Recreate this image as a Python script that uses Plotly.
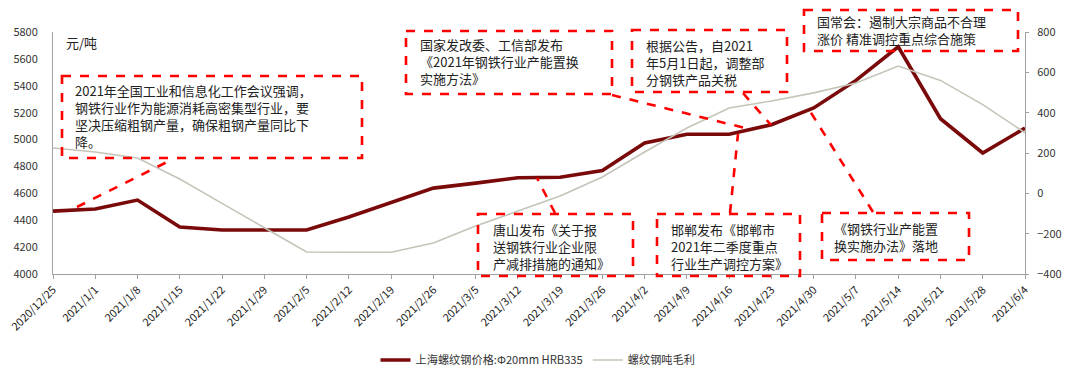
import plotly.graph_objects as go

# ---------------- data ----------------
dates = ["2020/12/25", "2021/1/1", "2021/1/8", "2021/1/15", "2021/1/22", "2021/1/29",
         "2021/2/5", "2021/2/12", "2021/2/19", "2021/2/26", "2021/3/5", "2021/3/12",
         "2021/3/19", "2021/3/26", "2021/4/2", "2021/4/9", "2021/4/16", "2021/4/23",
         "2021/4/30", "2021/5/7", "2021/5/14", "2021/5/21", "2021/5/28", "2021/6/4"]
price = [4468, 4483, 4550, 4349, 4327, 4327, 4327, 4424, 4530, 4639, 4676, 4716,
         4720, 4770, 4975, 5040, 5040, 5110, 5235, 5440, 5690, 5155, 4900, 5085]
margin = [225, 205, 175, 71, -50, -172, -291, -292, -292, -246, -162, -88,
          -13, 81, 205, 324, 423, 458, 498, 547, 631, 560, 440, 300]
left_ticks = [4000, 4200, 4400, 4600, 4800, 5000, 5200, 5400, 5600, 5800]
right_ticks = [-400, -200, 0, 200, 400, 600, 800]
series_names = ["上海螺纹钢价格:Φ20mm HRB335", "螺纹钢吨毛利"]
unit_label = "元/吨"

notes = [
    "2021年全国工业和信息化工作会议强调，<br>钢铁行业作为能源消耗高密集型行业，要<br>坚决压缩粗钢产量，确保粗钢产量同比下<br>降。",
    "国家发改委、工信部发布<br>《2021年钢铁行业产能置换<br>实施方法》",
    "根据公告，自2021<br>年5月1日起，调整部<br>分钢铁产品关税",
    "国常会：遏制大宗商品不合理<br>涨价 精准调控重点综合施策",
    "唐山发布《关于报<br>送钢铁行业企业限<br>产减排措施的通知》",
    "邯郸发布《邯郸市<br>2021年二季度重点<br>行业生产调控方案》",
    "《钢铁行业产能置<br>换实施办法》落地",
]

# ---------------- layout geometry ----------------
# The page body has an 8px margin, so the figure sits at (8, 8) on screen.
OFF = 8
W, H = 1064, 362
L, T = 53 - OFF, 32 - OFF          # plot area starts at screen (53, 32)
PW, PH = 972, 242                   # plot area size
R, B = W - L - PW, H - T - PH


def px(x):
    """screen x pixel -> paper fraction"""
    return (x - OFF - L) / PW


def py(y):
    """screen y pixel -> paper fraction"""
    return 1 - (y - OFF - T) / PH


fig = go.Figure()
fig.add_trace(go.Scatter(x=dates, y=price, name=series_names[0], mode="lines",
                         line=dict(color="#7a0a0a", width=3.6), yaxis="y"))
fig.add_trace(go.Scatter(x=dates, y=margin, name=series_names[1], mode="lines",
                         line=dict(color="#c4c4b8", width=1.6), yaxis="y2"))

font_family = "Noto Sans CJK SC, Noto Sans, sans-serif"
axis_col = "#a0a0a0"
tick_font = dict(size=11, color="#333333", family=font_family)

fig.update_layout(
    width=W, height=H,
    margin=dict(l=L, r=R, t=T, b=B, pad=0, autoexpand=False),
    paper_bgcolor="white", plot_bgcolor="white",
    font=dict(family=font_family, color="#222222"),
    xaxis=dict(type="category", range=[0, len(dates) - 1], tickangle=-45,
               automargin=False,
               showgrid=False, zeroline=False, showline=True, linecolor=axis_col,
               linewidth=1, ticks="outside", ticklen=4, tickcolor=axis_col,
               tickfont=dict(size=11, color="#222222", family=font_family)),
    yaxis=dict(range=[4000, 5800], tickvals=left_ticks, showgrid=False, zeroline=False,
               automargin=False,
               showline=True, linecolor=axis_col, linewidth=1, ticks="",
               ticklabelstandoff=12, tickfont=tick_font),
    yaxis2=dict(range=[-400, 800], tickvals=right_ticks, overlaying="y", side="right",
                automargin=False,
                showgrid=False, zeroline=False, showline=True, linecolor=axis_col,
                linewidth=1, ticks="outside", ticklen=3, tickcolor=axis_col,
                ticklabelstandoff=6, tickfont=tick_font),
    legend=dict(orientation="h", x=(538 - OFF) / W, xanchor="center", xref="container",
                y=1 - (360 - OFF) / H, yanchor="middle", yref="container",
                font=dict(size=11.2, color="#333333", family=font_family),
                itemwidth=30, tracegroupgap=0, bgcolor="rgba(0,0,0,0)"),
    showlegend=True,
)

fig.add_annotation(text=unit_label, xref="paper", yref="paper", x=px(64), y=py(43),
                   xanchor="left", yanchor="middle", showarrow=False,
                   font=dict(size=13, color="#222222", family=font_family))

red = "#ff0000"
# boxes in screen pixels: (x0, y0, x1, y1, text_left, first_line_center)
boxes = [
    (62, 76, 362, 158, 73, 90),
    (406, 31, 612, 94, 418, 44),
    (632, 30, 787, 92, 644, 45),
    (804, 10, 1018, 51, 815, 21),
    (478, 214, 633, 276, 491, 229),
    (657, 214, 800, 276, 669, 229),
    (822, 213, 969, 260, 832, 228),
]
connectors = [
    (77, 207, 173, 159),
    (612, 95, 745, 128),
    (743, 93, 771, 125),
    (555, 213, 537, 178),
    (730, 213, 738, 134),
    (873, 212, 808, 108),
]

for (x0, y0, x1, y1, tl, fl), txt in zip(boxes, notes):
    fig.add_shape(type="rect", xref="paper", yref="paper",
                  x0=px(x0), x1=px(x1), y0=py(y0), y1=py(y1),
                  line=dict(color=red, width=2.6, dash="dash"),
                  fillcolor="rgba(0,0,0,0)", layer="above")
    fig.add_annotation(text=txt, xref="paper", yref="paper", x=px(tl), y=py(fl - 11),
                       xanchor="left", yanchor="top", align="left", showarrow=False,
                       font=dict(size=13, color="#222222", family=font_family))

for (xa, ya, xb, yb) in connectors:
    fig.add_shape(type="line", xref="paper", yref="paper",
                  x0=px(xa), y0=py(ya), x1=px(xb), y1=py(yb),
                  line=dict(color=red, width=2.6, dash="dash"), layer="above")

fig.write_html("out.html")
